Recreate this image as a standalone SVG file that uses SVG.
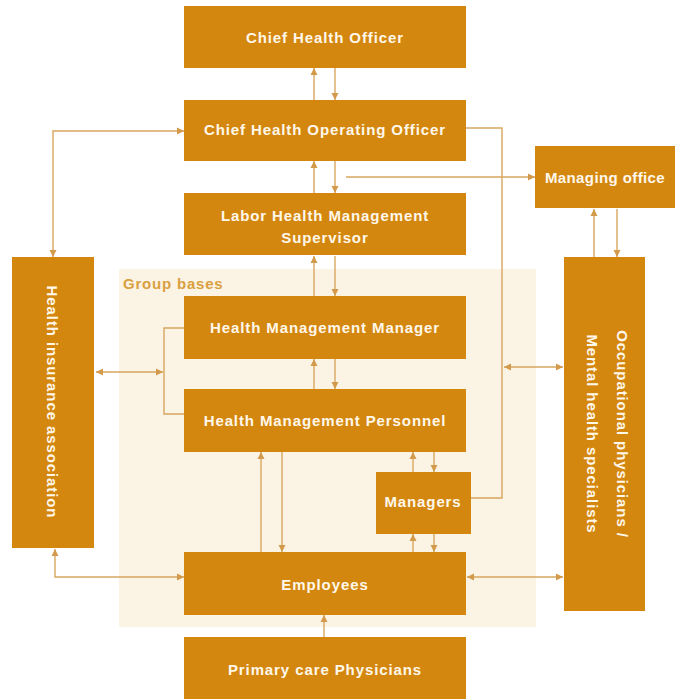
<svg xmlns="http://www.w3.org/2000/svg" width="678" height="699" viewBox="0 0 678 699">
<defs>
<marker id="ah" viewBox="0 0 10 10" refX="10" refY="5" markerWidth="7" markerHeight="8" markerUnits="userSpaceOnUse" orient="auto-start-reverse">
<path d="M0,0 L10,5 L0,10 z" fill="#D39A4C"/>
</marker>
<style>
.box{fill:#D4870F;}
.t{fill:#FFF8EA;font-family:"Liberation Sans","DejaVu Sans",sans-serif;font-size:15px;font-weight:bold;text-anchor:middle;letter-spacing:0.9px;}
.c{fill:none;stroke:#D9A65F;stroke-width:1.4;}
.a{marker-end:url(#ah);}
.b{marker-start:url(#ah);marker-end:url(#ah);}
</style>
</defs>
<rect width="678" height="699" fill="#FFFFFF"/>
<g id="group-bases">
<rect x="119" y="269" width="417" height="358" fill="#FBF3E4"/>
<text x="123" y="289" style="fill:#D9A040;font-family:'Liberation Sans','DejaVu Sans',sans-serif;font-size:15px;font-weight:bold;letter-spacing:0.8px;">Group bases</text>
</g>
<g id="connectors">
<line class="c a" x1="314" y1="100" x2="314" y2="68"/>
<line class="c a" x1="335" y1="68" x2="335" y2="100"/>
<line class="c a" x1="314" y1="193" x2="314" y2="161"/>
<line class="c a" x1="335" y1="161" x2="335" y2="193"/>
<line class="c a" x1="346" y1="177" x2="535" y2="177"/>
<polyline class="c b" points="53,257 53,131 184,131"/>
<polyline class="c" points="466,128 502,128 502,498 471,498"/>
<line class="c a" x1="594" y1="257" x2="594" y2="209"/>
<line class="c a" x1="617" y1="209" x2="617" y2="257"/>
<line class="c a" x1="314" y1="296" x2="314" y2="256"/>
<line class="c a" x1="335" y1="256" x2="335" y2="296"/>
<line class="c a" x1="314" y1="389" x2="314" y2="359"/>
<line class="c a" x1="335" y1="359" x2="335" y2="389"/>
<polyline class="c" points="184,328 164,328 164,414 184,414"/>
<line class="c b" x1="96" y1="372" x2="163" y2="372"/>
<line class="c b" x1="504" y1="367" x2="563" y2="367"/>
<line class="c a" x1="261" y1="552" x2="261" y2="452"/>
<line class="c a" x1="282" y1="452" x2="282" y2="552"/>
<line class="c a" x1="413" y1="472" x2="413" y2="452"/>
<line class="c a" x1="434" y1="452" x2="434" y2="472"/>
<line class="c a" x1="413" y1="552" x2="413" y2="534"/>
<line class="c a" x1="434" y1="534" x2="434" y2="552"/>
<polyline class="c b" points="55,549 55,577 184,577"/>
<line class="c b" x1="467" y1="577" x2="563" y2="577"/>
<line class="c a" x1="324" y1="637" x2="324" y2="615"/>
</g>
<g id="chief-health-officer">
<rect class="box" x="184" y="6" width="282" height="62"/>
<text class="t" x="325" y="43">Chief Health Officer</text>
</g>
<g id="chief-health-operating-officer">
<rect class="box" x="184" y="100" width="282" height="61"/>
<text class="t" x="325" y="135">Chief Health Operating Officer</text>
</g>
<g id="labor-health-management-supervisor">
<rect class="box" x="184" y="193" width="282" height="62"/>
<text class="t" x="325" y="221">Labor Health Management</text>
<text class="t" x="325" y="243">Supervisor</text>
</g>
<g id="managing-office">
<rect class="box" x="535" y="146" width="140" height="62"/>
<text class="t" x="605" y="183" style="letter-spacing:0.4px">Managing office</text>
</g>
<g id="health-insurance-association">
<rect class="box" x="12" y="257" width="82" height="291"/>
<text class="t" transform="translate(47,402) rotate(90)">Health insurance association</text>
</g>
<g id="occupational-physicians">
<rect class="box" x="564" y="257" width="81" height="354"/>
<text class="t" transform="translate(617,434) rotate(90)">Occupational physicians /</text>
<text class="t" transform="translate(587,434) rotate(90)">Mental health specialists</text>
</g>
<g id="health-management-manager">
<rect class="box" x="184" y="296" width="282" height="63"/>
<text class="t" x="325" y="333">Health Management Manager</text>
</g>
<g id="health-management-personnel">
<rect class="box" x="184" y="389" width="282" height="63"/>
<text class="t" x="325" y="426">Health Management Personnel</text>
</g>
<g id="managers">
<rect class="box" x="376" y="472" width="95" height="62"/>
<text class="t" x="423" y="507">Managers</text>
</g>
<g id="employees">
<rect class="box" x="184" y="552" width="282" height="63"/>
<text class="t" x="325" y="590">Employees</text>
</g>
<g id="primary-care-physicians">
<rect class="box" x="184" y="637" width="282" height="62"/>
<text class="t" x="325" y="675">Primary care Physicians</text>
</g>
</svg>
